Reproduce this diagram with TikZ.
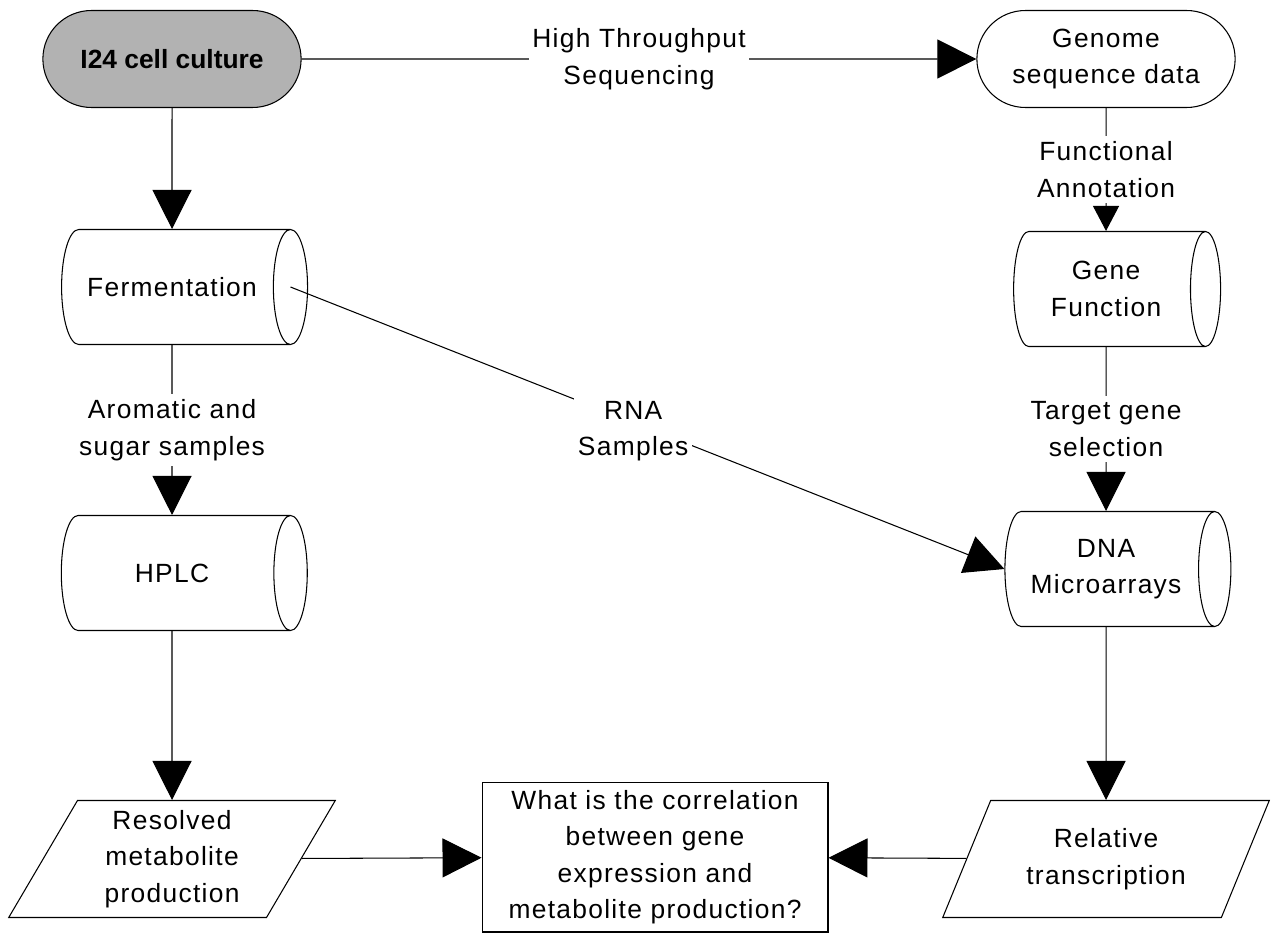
\documentclass[tikz,border=0pt]{standalone}
\usepackage{fontspec}
\setmainfont[LetterSpace=5]{Liberation Sans}
\newfontfamily\plainsans{Liberation Sans}
\usetikzlibrary{shapes.geometric, shapes.misc, arrows.meta, calc}

\begin{document}
\begin{tikzpicture}[
    x=0.02cm, y=-0.02cm,
    font=\fontsize{15}{20.8}\selectfont,
    line width=0.6pt,
    terminator/.style={rounded rectangle, draw, minimum width=5.4cm, minimum height=1.94cm, align=center},
    storage/.style={cylinder, draw, shape aspect=1.1, minimum width=2.3cm, align=center},
    io/.style={trapezium, trapezium left angle=64, trapezium right angle=116, trapezium stretches=true, draw, minimum width=6.54cm, minimum height=2.34cm, align=center},
    process/.style={rectangle, draw, minimum width=6.92cm, minimum height=3cm, align=center},
    arrow/.style={-{Triangle[length=0.78cm, width=0.78cm]}},
    shortarrow/.style={-{Triangle[length=0.5cm, width=0.52cm]}},
    edgelabel/.style={fill=white, align=center, inner xsep=2pt, inner ysep=3pt}
]
\useasboundingbox (0,0) rectangle (1273,936);

\node[terminator, fill=black!30, font=\fontsize{15}{20.8}\plainsans\bfseries] (culture) at (172,59) {I24 cell culture};
\node[terminator] (genome) at (1106,59) {Genome\\sequence data};

\node[storage, minimum height=4.92cm] (ferment) at (172,287) {Fermentation};
\node[storage, minimum height=4.14cm, shape aspect=0.45] (genefn) at (1106,289) {Gene\\Function};

\node[storage, minimum height=4.92cm] (hplc) at (172,573) {HPLC};
\node[storage, minimum height=4.52cm, shape aspect=0.45] (dna) at (1106,569) {DNA\\Microarrays};

\node[io] (resolved) at (172,859) {Resolved\\metabolite\\production};
\node[process] (question) at (655,857) {What is the correlation\\between gene\\expression and\\metabolite production?};
\node[io] (relative) at (1106,859) {Relative\\transcription};

\coordinate (fermout) at ($(ferment.before top)!.5!(ferment.after top)$);

\draw[arrow] (culture) -- node[edgelabel]{High Throughput\\Sequencing} (genome);
\draw[arrow] (culture) -- (ferment);

\draw[shortarrow] (genome) -- node[edgelabel]{Functional\\Annotation} (genefn);
\draw[arrow] (genefn) -- node[edgelabel]{Target gene\\selection} (dna);

\draw[arrow] (ferment) -- node[edgelabel]{Aromatic and\\sugar samples} (hplc);
\draw[arrow] (fermout) -- node[edgelabel, pos=.48, yshift=-5pt]{RNA\\Samples} (dna.west);

\draw[arrow] (hplc) -- (resolved);
\draw[arrow] (dna) -- (relative);

\draw[arrow] (resolved) -- (question);
\draw[arrow] (relative) -- (question);

\end{tikzpicture}
\end{document}
